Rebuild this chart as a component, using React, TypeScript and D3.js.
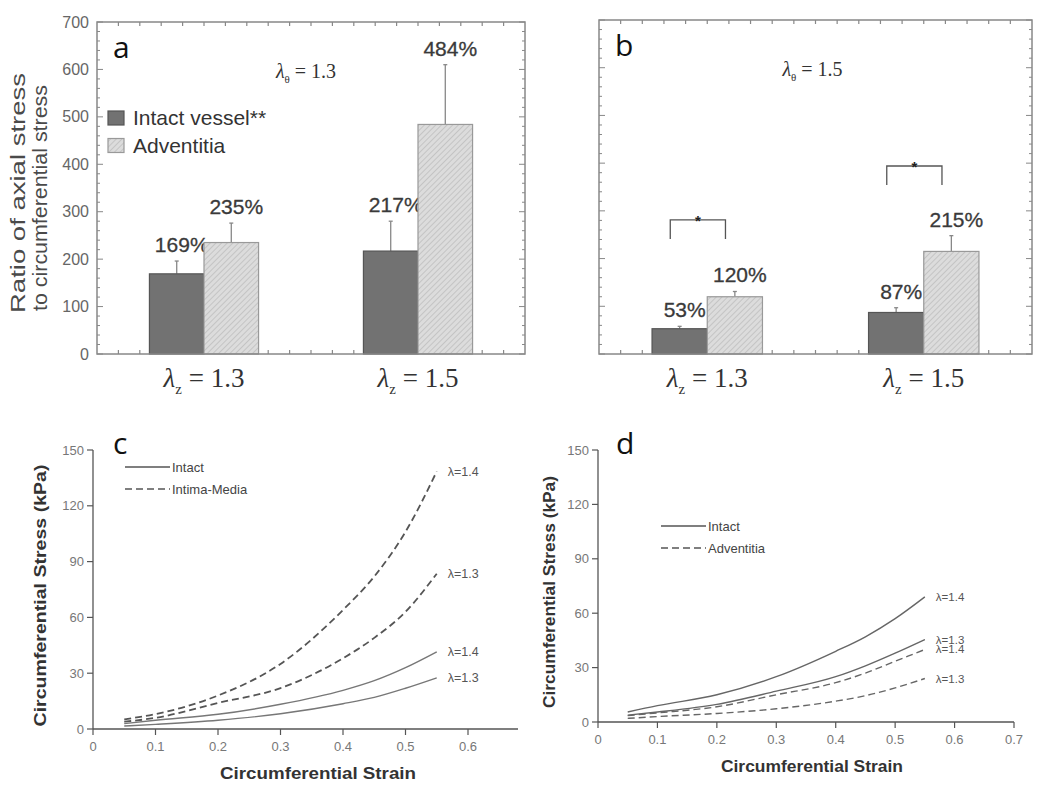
import * as d3 from 'd3'

const groups = ['1.3', '1.5']
const seriesNames = ['Intact vessel**', 'Adventitia']

// panel a, lambda theta = 1.3
const aIntact = [169, 217]
const aIntactSd = [27, 63]
const aAdvent = [235, 484]
const aAdventSd = [41, 126]

// panel b, lambda theta = 1.5
const bIntact = [53, 87]
const bIntactSd = [5, 10]
const bAdvent = [120, 215]
const bAdventSd = [11, 33]
const bBracketTop = [281, 394]

const yTicksBar = [0, 100, 200, 300, 400, 500, 600, 700]

// stress-strain curves
const strain = [0.05, 0.1, 0.2, 0.3, 0.4, 0.45, 0.5, 0.55]
const cIntact13 = [1.6, 2.5, 4.7, 8.2, 13.6, 17, 21.9, 27.5]
const cIntact14 = [2.9, 4.7, 7.9, 13.3, 20.8, 26, 33, 41.5]
const cIntima13 = [3.9, 6, 14, 22, 38, 49, 63, 83.5]
const cIntima14 = [5.2, 8, 18, 35, 64, 82, 106, 138.5]
const dIntact13 = [3.8, 5.5, 9.7, 17, 25, 31, 38, 45.5]
const dIntact14 = [5.5, 9, 15, 25, 39, 47, 57, 69]
const dAdvent13 = [2, 3, 4.7, 7.3, 11.5, 14.5, 18.8, 24]
const dAdvent14 = [3.5, 5, 8.4, 15, 21.7, 27, 33.5, 40]

const stressTicks = [0, 30, 60, 90, 120, 150]

const sans = 'Liberation Sans, Arial, sans-serif'
const serif = 'Liberation Serif, Times New Roman, serif'
const letterFont = 'Open Sans, Noto Sans, sans-serif'

function Lambda({ x, y, sub, value, size, anchor }: any) {
  return (
    <text x={x} y={y} fontFamily={serif} fontSize={size} fill="#333" textAnchor={anchor}>
      <tspan fontStyle="italic">λ</tspan>
      <tspan fontSize={size * 0.55} dy={size * 0.25}>{sub}</tspan>
      <tspan dy={-size * 0.25}>{' = ' + value}</tspan>
    </text>
  )
}

function BarPanel({ x0, x1, yTop, yBot, intact, intactSd, advent, adventSd, letter, theta, showY, brackets }: any) {
  const x = d3.scaleBand().domain(groups).range([x0, x1]).paddingInner(0.49).paddingOuter(0.245)
  const xs = d3.scaleBand().domain(seriesNames).range([0, x.bandwidth()])
  const y = d3.scaleLinear().domain([0, 700]).range([yBot, yTop])
  const bw = xs.bandwidth()
  const frameTicks = d3.range(1, 20).map(i => x0 + ((x1 - x0) * i) / 20)
  const bars: any[] = []
  groups.forEach((g, i) => {
    bars.push({ g, s: seriesNames[0], v: intact[i], sd: intactSd[i] })
    bars.push({ g, s: seriesNames[1], v: advent[i], sd: adventSd[i] })
  })
  return (
    <g>
      {/* frame ticks */}
      {d3.range(0, 701, 20).map(v => {
        const len = v % 100 === 0 ? 6 : 3
        return (
          <g key={'yt' + v} stroke="#888" strokeWidth={1}>
            <line x1={x0} x2={x0 + len} y1={y(v)} y2={y(v)} />
            <line x1={x1} x2={x1 - len} y1={y(v)} y2={y(v)} />
          </g>
        )
      })}
      {frameTicks.map((t, i) => (
        <g key={'xt' + i} stroke="#888" strokeWidth={1.2}>
          <line x1={t} x2={t} y1={yTop} y2={yTop + 4} />
          <line x1={t} x2={t} y1={yBot} y2={yBot - 4} />
        </g>
      ))}
      {showY &&
        yTicksBar.map(v => (
          <text key={'yl' + v} x={x0 - 8} y={y(v)} dy="0.35em" textAnchor="end" fontFamily={sans} fontSize={16} fill="#666">
            {v}
          </text>
        ))}
      {bars.map((b, i) => {
        const bx = (x(b.g) as number) + (xs(b.s) as number)
        const dark = b.s === seriesNames[0]
        const cx = bx + bw / 2
        const top = y(b.v + b.sd)
        return (
          <g key={'b' + i}>
            <line x1={cx} x2={cx} y1={y(b.v)} y2={top} stroke="#888" strokeWidth={1.3} />
            <line x1={cx - 2} x2={cx + 2} y1={top} y2={top} stroke="#888" strokeWidth={1.3} />
            <rect
              x={bx}
              y={y(b.v)}
              width={bw}
              height={yBot - y(b.v)}
              fill={dark ? '#727272' : 'url(#hatch)'}
              stroke={dark ? '#555' : '#999'}
              strokeWidth={1.2}
            />
            <text x={cx + 5} y={top - 9} textAnchor="middle" fontFamily={sans} fontSize={21} fill="#3a3a3a" stroke="#3a3a3a" strokeWidth={0.3}>
              {b.v + '%'}
            </text>
          </g>
        )
      })}
      {brackets &&
        groups.map((g, i) => {
          const bxL = (x(g) as number) + (xs(seriesNames[0]) as number) + bw * 0.33
          const bxR = (x(g) as number) + (xs(seriesNames[1]) as number) + bw * 0.33
          const t = y(brackets[i])
          return (
            <g key={'br' + i}>
              <path d={`M${bxL},${t + 19}V${t}H${bxR}V${t + 19}`} fill="none" stroke="#555" strokeWidth={1.3} />
              <text x={(bxL + bxR) / 2} y={t + 6} textAnchor="middle" fontFamily={sans} fontSize={15} fontWeight="bold" fill="#222">
                *
              </text>
            </g>
          )
        })}
      <rect x={x0} y={yTop} width={x1 - x0} height={yBot - yTop} fill="none" stroke="#888" strokeWidth={1.5} />
      <text x={x0 + 16} y={yTop + 36} fontFamily={letterFont} fontSize={30} fill="#111">
        {letter}
      </text>
      <Lambda x={(x0 + x1) / 2 + (showY ? -5 : -3)} y={yTop + 56} sub="θ" value={theta} size={20} anchor="middle" />
      {groups.map(g => (
        <Lambda key={'cl' + g} x={(x(g) as number) + x.bandwidth() / 2} y={yBot + 33} sub="z" value={g} size={27} anchor="middle" />
      ))}
    </g>
  )
}

function LinePanel({ x0, xMax, xEnd, yBot, yTop, xTicks, series, legend, legendX, legendY, letter, letterX, titleLen, xTitleLen, yTitleX, labelSize }: any) {
  const x = d3.scaleLinear().domain([0, xMax]).range([x0, xEnd])
  const y = d3.scaleLinear().domain([0, 150]).range([yBot, yTop])
  const line = d3
    .line<number>()
    .x((_, i) => x(strain[i]))
    .y(d => y(d))
    .curve(d3.curveMonotoneX)
  const fmt = (v: number) => (v === 0 ? '0' : d3.format('.1f')(v))
  return (
    <g>
      <line x1={x0} x2={x0} y1={yBot} y2={yTop} stroke="#555" strokeWidth={1.3} />
      <line x1={x0} x2={xEnd} y1={yBot} y2={yBot} stroke="#555" strokeWidth={1.3} />
      {stressTicks.map(v => (
        <g key={'sy' + v}>
          <line x1={x0 - 6} x2={x0} y1={y(v)} y2={y(v)} stroke="#555" strokeWidth={1.2} />
          <text x={x0 - 9} y={y(v)} dy="0.35em" textAnchor="end" fontFamily={sans} fontSize={13} fill="#777">
            {v}
          </text>
        </g>
      ))}
      {xTicks.map((v: number) => (
        <g key={'sx' + v}>
          <line x1={x(v)} x2={x(v)} y1={yBot} y2={yBot + 6} stroke="#555" strokeWidth={1.2} />
          <text x={x(v)} y={yBot + 22} textAnchor="middle" fontFamily={sans} fontSize={13} fill="#777">
            {fmt(v)}
          </text>
        </g>
      ))}
      {series.map((s: any, i: number) => (
        <g key={'s' + i}>
          <path
            d={line(s.values) || ''}
            fill="none"
            stroke={s.color}
            strokeWidth={s.width}
            strokeDasharray={s.dashed ? '7,4' : undefined}
          />
          <text x={x(0.55) + 11} y={y(s.values[s.values.length - 1])} dy="0.35em" fontFamily={sans} fontSize={labelSize} fill="#555">
            {'λ=' + s.label}
          </text>
        </g>
      ))}
      {legend.map((name: string, i: number) => (
        <g key={'lg' + i}>
          <line
            x1={legendX}
            x2={legendX + 45}
            y1={legendY + i * 22}
            y2={legendY + i * 22}
            stroke="#555"
            strokeWidth={1.4}
            strokeDasharray={i === 1 ? '7,4' : undefined}
          />
          <text x={legendX + 47} y={legendY + i * 22} dy="0.35em" fontFamily={sans} fontSize={13} fill="#444">
            {name}
          </text>
        </g>
      ))}
      <text x={letterX} y={yTop + 4} fontFamily={letterFont} fontSize={30} fill="#111">
        {letter}
      </text>
      <text
        transform={`translate(${yTitleX},${(yBot + yTop) / 2 + 6}) rotate(-90)`}
        textAnchor="middle"
        fontFamily={sans}
        fontSize={16.5}
        fontWeight="bold"
        fill="#333"
        textLength={titleLen}
        lengthAdjust="spacingAndGlyphs"
      >
        Circumferential Stress (kPa)
      </text>
      <text
        x={x(0.36)}
        y={yBot + 50}
        textAnchor="middle"
        fontFamily={sans}
        fontSize={16.5}
        fontWeight="bold"
        fill="#333"
        textLength={xTitleLen}
        lengthAdjust="spacingAndGlyphs"
      >
        Circumferential Strain
      </text>
    </g>
  )
}

export default function App() {
  const cSeries = [
    { values: cIntima14, dashed: true, label: '1.4', color: '#555', width: 1.8 },
    { values: cIntima13, dashed: true, label: '1.3', color: '#555', width: 1.8 },
    { values: cIntact14, dashed: false, label: '1.4', color: '#777', width: 1.4 },
    { values: cIntact13, dashed: false, label: '1.3', color: '#777', width: 1.4 },
  ]
  const dSeries = [
    { values: dIntact14, dashed: false, label: '1.4', color: '#666', width: 1.4 },
    { values: dIntact13, dashed: false, label: '1.3', color: '#666', width: 1.4 },
    { values: dAdvent14, dashed: true, label: '1.4', color: '#666', width: 1.4 },
    { values: dAdvent13, dashed: true, label: '1.3', color: '#666', width: 1.4 },
  ]
  return (
    <svg width={1050} height={785} style={{ position: 'absolute', left: 0, top: 0, background: '#fff' }}>
      <defs>
        <pattern id="hatch" width={4} height={4} patternUnits="userSpaceOnUse" patternTransform="rotate(45)">
          <rect width={4} height={4} fill="#dcdcdc" />
          <line x1={0} y1={0} x2={0} y2={4} stroke="#b5b5b5" strokeWidth={1.2} />
        </pattern>
      </defs>

      <BarPanel
        x0={97}
        x1={525}
        yTop={22}
        yBot={354}
        intact={aIntact}
        intactSd={aIntactSd}
        advent={aAdvent}
        adventSd={aAdventSd}
        letter="a"
        theta="1.3"
        showY
      />
      {/* legend of panel a */}
      {seriesNames.map((s, i) => (
        <g key={'leg' + s}>
          <rect
            x={108}
            y={111 + i * 27.5}
            width={16}
            height={14}
            fill={i === 0 ? '#727272' : 'url(#hatch)'}
            stroke={i === 0 ? '#555' : '#999'}
            strokeWidth={1.2}
          />
          <text x={133} y={125 + i * 27.5} fontFamily={sans} fontSize={21} fill="#333">
            {s}
          </text>
        </g>
      ))}
      <text transform="translate(25,193) rotate(-90)" textAnchor="middle" fontFamily={sans} fontSize={20} fill="#4a4a4a" textLength={240} lengthAdjust="spacingAndGlyphs">
        Ratio of axial stress
      </text>
      <text transform="translate(47,198) rotate(-90)" textAnchor="middle" fontFamily={sans} fontSize={20} fill="#4a4a4a" textLength={226} lengthAdjust="spacingAndGlyphs">
        to circumferential stress
      </text>

      <BarPanel
        x0={599}
        x1={1032}
        yTop={20}
        yBot={354}
        intact={bIntact}
        intactSd={bIntactSd}
        advent={bAdvent}
        adventSd={bAdventSd}
        letter="b"
        theta="1.5"
        brackets={bBracketTop}
      />

      <LinePanel
        x0={93}
        xMax={0.68}
        xEnd={518}
        yBot={729}
        yTop={450}
        xTicks={[0, 0.1, 0.2, 0.3, 0.4, 0.5, 0.6]}
        series={cSeries}
        legend={['Intact', 'Intima-Media']}
        legendX={125}
        legendY={467}
        letter="c"
        letterX={113}
        titleLen={262}
        xTitleLen={196}
        yTitleX={46}
        labelSize={12.5}
      />
      <LinePanel
        x0={598}
        xMax={0.7}
        xEnd={1014}
        yBot={722}
        yTop={450}
        xTicks={[0, 0.1, 0.2, 0.3, 0.4, 0.5, 0.6, 0.7]}
        series={dSeries}
        legend={['Intact', 'Adventitia']}
        legendX={661}
        legendY={526}
        letter="d"
        letterX={616}
        titleLen={232}
        xTitleLen={182}
        yTitleX={555}
        labelSize={11.5}
      />
    </svg>
  )
}
